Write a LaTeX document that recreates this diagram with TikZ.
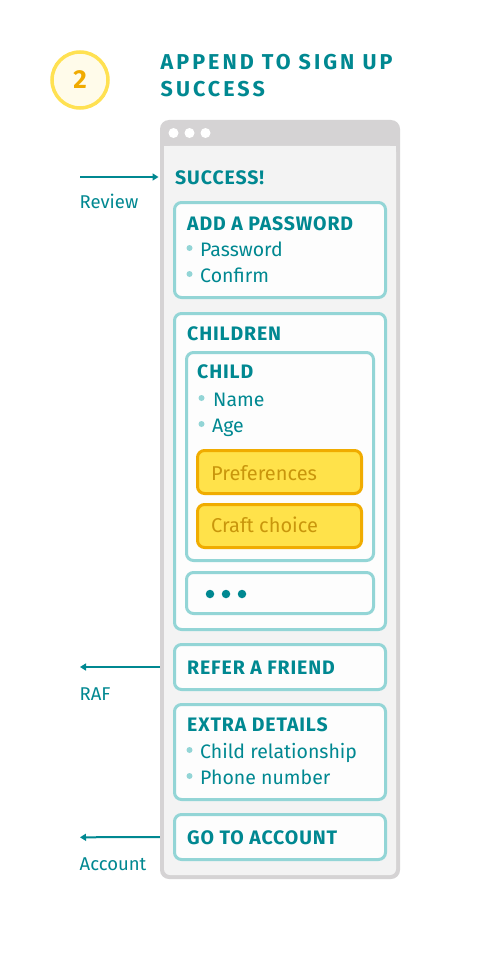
\documentclass[tikz,border=0pt]{standalone}
\usepackage{fontspec}
\setmainfont{Fira Sans}
\newfontfamily\headfont{Fira Sans}[LetterSpace=4.5]
\newfontfamily\bigheadfont{Fira Sans}[LetterSpace=14]
\usetikzlibrary{arrows.meta}
\definecolor{tealtxt}{HTML}{008891}
\definecolor{ltteal}{HTML}{93D5D6}
\definecolor{boxfill}{HTML}{FDFDFD}
\definecolor{wingray}{HTML}{D5D3D4}
\definecolor{wininner}{HTML}{F3F3F3}
\definecolor{ylwfill}{HTML}{FFE24A}
\definecolor{ylwline}{HTML}{F0AC00}
\definecolor{ylwtext}{HTML}{C9960C}
\definecolor{badgeline}{HTML}{FFE152}
\definecolor{badgefill}{HTML}{FFFBEA}
\definecolor{badgetext}{HTML}{F0AA00}
\tikzset{
  box/.style={draw=ltteal, line width=3pt, fill=boxfill, rounded corners=7pt, inner sep=0pt},
  ybox/.style={draw=ylwline, line width=3pt, fill=ylwfill, rounded corners=7pt, inner sep=0pt},
  hd/.style={anchor=base west, inner sep=0pt, text=tealtxt, font=\headfont\bfseries\fontsize{19.5}{22}\selectfont},
  body/.style={anchor=base west, inner sep=0pt, text=tealtxt, font=\fontsize{19.5}{22}\selectfont},
  ybody/.style={anchor=base west, inner sep=0pt, text=ylwtext, font=\fontsize{20}{22}\selectfont},
  lbl/.style={anchor=base west, inner sep=0pt, text=tealtxt, font=\fontsize{18.5}{22}\selectfont},
  bul/.style={circle, fill=ltteal, minimum size=6pt, inner sep=0pt},
  tdot/.style={circle, fill=tealtxt, minimum size=8.5pt, inner sep=0pt},
  wdot/.style={circle, fill=white, minimum size=10pt, inner sep=0pt},
  arr/.style={draw=tealtxt, line width=2pt, -{Triangle[length=6pt,width=7pt]}},
}
\begin{document}
\begin{tikzpicture}[x=1pt,y=-1pt]
\useasboundingbox (0,0) rectangle (480,960);
\fill[white] (0,0) rectangle (480,960);

% badge
\node[circle, draw=badgeline, line width=3.5pt, fill=badgefill, minimum size=56pt, inner sep=0pt,
      text=badgetext, font=\bfseries\fontsize{26}{26}\selectfont] (badge) at (80,80) {2};

% title
\node[anchor=base west, inner sep=0pt, text=tealtxt, font=\bigheadfont\bfseries\fontsize{21.5}{24}\selectfont] (title1) at (160.5,69.5) {APPEND TO SIGN UP};
\node[anchor=base west, inner sep=0pt, text=tealtxt, font=\bigheadfont\bfseries\fontsize{21.5}{24}\selectfont] (title2) at (160.5,97) {SUCCESS};

% window
\node[fill=wingray, rounded corners=9pt, minimum width=240pt, minimum height=759pt, inner sep=0pt] (win) at (280,499.5) {};
\fill[wininner, rounded corners=6pt] (164,146) rectangle (396,875);
\fill[wininner] (164,146) rectangle (396,160);
\node[wdot] (d1) at (173.5,133) {};
\node[wdot] (d2) at (189.5,133) {};
\node[wdot] (d3) at (205.5,133) {};

% success
\node[hd] (success) at (175,184) {SUCCESS!};

% password box
\node[box, minimum width=211pt, minimum height=95pt] (pw) at (280,250) {};
\node[hd] (pwt) at (187,230) {ADD A PASSWORD};
\node[bul] (pb1) at (189.5,248) {};
\node[body] (pw1) at (200,256) {Password};
\node[bul] (pb2) at (189.5,274) {};
\node[body] (pw2) at (200,282.5) {Confirm};

% children
\node[box, minimum width=211pt, minimum height=316pt] (children) at (280,471.5) {};
\node[hd] (cht) at (187,340) {CHILDREN};
\node[box, minimum width=187pt, minimum height=208pt] (child) at (280,456.5) {};
\node[hd] (cdt) at (197,378.3) {CHILD};
\node[bul] (cb1) at (201.5,398) {};
\node[body] (cd1) at (213,406) {Name};
\node[bul] (cb2) at (201.5,424) {};
\node[body] (cd2) at (212,432.5) {Age};
\node[ybox, minimum width=164pt, minimum height=43pt] (pref) at (279.5,472) {};
\node[ybody] (preft) at (211,480) {Preferences};
\node[ybox, minimum width=164pt, minimum height=43pt] (craft) at (279.5,526) {};
\node[ybody] (craftt) at (211,532) {Craft choice};
\node[box, minimum width=187pt, minimum height=41pt] (more) at (280,593) {};
\node[tdot] (m1) at (210,594) {};
\node[tdot] (m2) at (226,594) {};
\node[tdot] (m3) at (242,594) {};

% refer a friend
\node[box, minimum width=211pt, minimum height=45pt] (raf) at (280,667) {};
\node[hd] (raft) at (187,674) {REFER A FRIEND};

% extra details
\node[box, minimum width=211pt, minimum height=95pt] (extra) at (280,752) {};
\node[hd] (ext) at (187,731.7) {EXTRA DETAILS};
\node[bul] (eb1) at (189.5,750) {};
\node[body] (ex1) at (200,758.3) {Child relationship};
\node[bul] (eb2) at (189.5,776) {};
\node[body] (ex2) at (200,784) {Phone number};

% go to account
\node[box, minimum width=211pt, minimum height=45pt] (acct) at (280,837) {};
\node[hd] (acctt) at (187,844) {GO TO ACCOUNT};

% side labels and arrows
\coordinate (revstart) at (80,177);
\coordinate (revend) at (158.5,177);
\draw[arr] (revstart) -- (revend);
\node[lbl] (review) at (79.5,208.5) {Review};

\coordinate (rafend) at (80,667);
\draw[arr] (win.west |- raf.center) -- (rafend);
\node[lbl] (raflbl) at (79.5,700) {RAF};

\coordinate (acctend) at (80,837.3);
\draw[arr] (win.west |- acct.center) -- (acctend);
\node[lbl] (acctlbl) at (79.5,870) {Account};
\end{tikzpicture}
\end{document}
